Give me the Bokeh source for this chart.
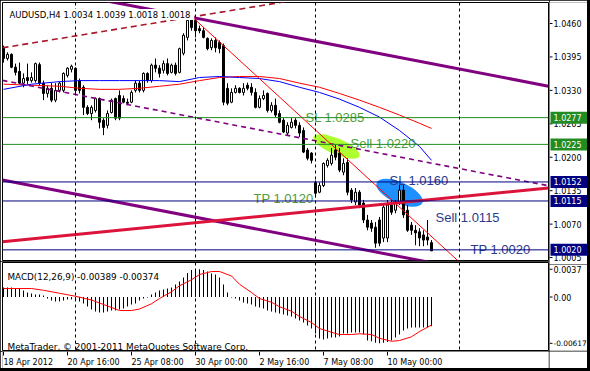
from bokeh.plotting import figure
from bokeh.models import Range1d, Label, Span, ColumnDataSource
from bokeh.layouts import column, row
from bokeh.core.properties import value
from bokeh.embed import file_html
from bokeh.resources import INLINE

# ---------------- data (AUDUSD H4, 18 Apr - 11 May 2012) ----------------
opens = [1.0413, 1.0392, 1.0400, 1.0375, 1.0367, 1.0344, 1.0355, 1.0349, 1.0349, 1.0380,
         1.0344, 1.0324, 1.0334, 1.0311, 1.0330, 1.0330, 1.0359, 1.0371, 1.0373, 1.0349,
         1.0336, 1.0297, 1.0285, 1.0291, 1.0314, 1.0272, 1.0262, 1.0287, 1.0314, 1.0320,
         1.0314, 1.0307, 1.0307, 1.0330, 1.0344, 1.0330, 1.0363, 1.0349, 1.0379, 1.0373,
         1.0369, 1.0382, 1.0365, 1.0379, 1.0365, 1.0402, 1.0433, 1.0470, 1.0466, 1.0450,
         1.0446, 1.0431, 1.0413, 1.0427, 1.0423, 1.0417, 1.0334, 1.0307, 1.0326, 1.0334,
         1.0326, 1.0340, 1.0336, 1.0326, 1.0297, 1.0314, 1.0324, 1.0291, 1.0301, 1.0285,
         1.0272, 1.0247, 1.0258, 1.0272, 1.0262, 1.0252, 1.0214, 1.0208, 1.0151, 1.0132,
         1.0145, 1.0184, 1.0188, 1.0214, 1.0208, 1.0171, 1.0190, 1.0136, 1.0113, 1.0132,
         1.0111, 1.0078, 1.0072, 1.0064, 1.0078, 1.0043, 1.0043, 1.0107, 1.0097, 1.0111,
         1.0136, 1.0097, 1.0068, 1.0058, 1.0055, 1.0049, 1.0045, 1.0034]
highs = [1.0417, 1.0404, 1.0402, 1.0382, 1.0384, 1.0363, 1.0382, 1.0365, 1.0384, 1.0384,
         1.0349, 1.0340, 1.0344, 1.0344, 1.0347, 1.0365, 1.0375, 1.0380, 1.0375, 1.0353,
         1.0340, 1.0301, 1.0301, 1.0316, 1.0316, 1.0276, 1.0291, 1.0314, 1.0316, 1.0330,
         1.0320, 1.0314, 1.0330, 1.0349, 1.0349, 1.0365, 1.0365, 1.0382, 1.0392, 1.0379,
         1.0388, 1.0392, 1.0382, 1.0384, 1.0413, 1.0441, 1.0470, 1.0472, 1.0470, 1.0456,
         1.0452, 1.0433, 1.0431, 1.0433, 1.0427, 1.0421, 1.0344, 1.0334, 1.0340, 1.0336,
         1.0344, 1.0345, 1.0344, 1.0334, 1.0320, 1.0330, 1.0326, 1.0307, 1.0314, 1.0291,
         1.0276, 1.0268, 1.0276, 1.0276, 1.0268, 1.0258, 1.0218, 1.0210, 1.0155, 1.0151,
         1.0190, 1.0198, 1.0218, 1.0224, 1.0218, 1.0198, 1.0198, 1.0140, 1.0140, 1.0136,
         1.0117, 1.0088, 1.0078, 1.0074, 1.0084, 1.0111, 1.0117, 1.0117, 1.0117, 1.0146,
         1.0146, 1.0107, 1.0074, 1.0068, 1.0062, 1.0058, 1.0078, 1.0039]
lows = [1.0384, 1.0388, 1.0373, 1.0359, 1.0342, 1.0336, 1.0342, 1.0345, 1.0345, 1.0340,
        1.0311, 1.0316, 1.0307, 1.0307, 1.0326, 1.0326, 1.0355, 1.0365, 1.0324, 1.0324,
        1.0282, 1.0282, 1.0272, 1.0287, 1.0256, 1.0243, 1.0256, 1.0285, 1.0272, 1.0272,
        1.0305, 1.0301, 1.0305, 1.0326, 1.0326, 1.0326, 1.0345, 1.0345, 1.0365, 1.0355,
        1.0363, 1.0359, 1.0363, 1.0359, 1.0363, 1.0398, 1.0427, 1.0446, 1.0433, 1.0441,
        1.0431, 1.0408, 1.0408, 1.0404, 1.0402, 1.0301, 1.0301, 1.0305, 1.0324, 1.0324,
        1.0320, 1.0330, 1.0320, 1.0295, 1.0295, 1.0311, 1.0287, 1.0287, 1.0278, 1.0266,
        1.0247, 1.0243, 1.0256, 1.0256, 1.0239, 1.0208, 1.0194, 1.0188, 1.0122, 1.0130,
        1.0142, 1.0180, 1.0184, 1.0194, 1.0171, 1.0165, 1.0126, 1.0111, 1.0107, 1.0101,
        1.0072, 1.0058, 1.0055, 1.0024, 1.0027, 1.0035, 1.0035, 1.0088, 1.0091, 1.0107,
        1.0082, 1.0055, 1.0049, 1.0029, 1.0027, 1.0027, 1.0029, 1.0018]
closes = [1.0392, 1.0400, 1.0375, 1.0365, 1.0344, 1.0353, 1.0349, 1.0355, 1.0382, 1.0344,
          1.0324, 1.0334, 1.0311, 1.0330, 1.0344, 1.0363, 1.0373, 1.0377, 1.0330, 1.0330,
          1.0297, 1.0285, 1.0297, 1.0314, 1.0268, 1.0258, 1.0285, 1.0311, 1.0276, 1.0276,
          1.0307, 1.0305, 1.0326, 1.0344, 1.0330, 1.0363, 1.0349, 1.0379, 1.0373, 1.0363,
          1.0382, 1.0363, 1.0379, 1.0363, 1.0411, 1.0437, 1.0466, 1.0452, 1.0446, 1.0446,
          1.0433, 1.0411, 1.0427, 1.0413, 1.0411, 1.0307, 1.0305, 1.0326, 1.0334, 1.0326,
          1.0334, 1.0334, 1.0326, 1.0297, 1.0314, 1.0320, 1.0291, 1.0301, 1.0282, 1.0268,
          1.0249, 1.0262, 1.0268, 1.0262, 1.0247, 1.0210, 1.0198, 1.0194, 1.0130, 1.0145,
          1.0188, 1.0194, 1.0204, 1.0200, 1.0175, 1.0188, 1.0132, 1.0117, 1.0132, 1.0107,
          1.0078, 1.0064, 1.0062, 1.0033, 1.0033, 1.0103, 1.0107, 1.0093, 1.0111, 1.0136,
          1.0088, 1.0058, 1.0058, 1.0053, 1.0043, 1.0039, 1.0039, 1.0018]

# moving averages (read at selected bars)
ma_bars = [0, 7, 14, 19, 24, 29, 34, 39, 44, 49, 54, 59, 64, 69, 74, 79, 84, 89, 94, 99, 104, 107]
ma_red = [1.0342, 1.0340, 1.0338, 1.0334, 1.0332, 1.0332, 1.0334, 1.0338, 1.0342, 1.0349, 1.0355,
          1.0357, 1.0357, 1.0353, 1.0344, 1.0336, 1.0324, 1.0311, 1.0297, 1.0282, 1.0266, 1.0256]
ma_blue = [1.0332, 1.0342, 1.0347, 1.0349, 1.0349, 1.0349, 1.0349, 1.0349, 1.0347, 1.0355, 1.0357,
           1.0355, 1.0353, 1.0347, 1.0336, 1.0326, 1.0313, 1.0297, 1.0278, 1.0252, 1.0221, 1.0194]

# MACD(12,26,9): main (histogram) per bar, signal line read at selected bars
macd_main = [0.00127, 0.00127, 0.00127, 0.00113, 0.00113, 0.00087, 0.00060, 0.00047, 0.00033, 0.00033,
             0.00020, -0.00020, -0.00047, -0.00060, -0.00060, -0.00047, -0.00033, -0.00033, -0.00047, -0.00060,
             -0.00087, -0.00127, -0.00167, -0.00193, -0.00207, -0.00207, -0.00193, -0.00180, -0.00180, -0.00167,
             -0.00153, -0.00127, -0.00100, -0.00087, -0.00047, -0.00020, -0.00007, 0.00033, 0.00060, 0.00087,
             0.00100, 0.00113, 0.00127, 0.00167, 0.00207, 0.00260, 0.00320, 0.00360, 0.00370, 0.00370,
             0.00360, 0.00340, 0.00313, 0.00300, 0.00260, 0.00167, 0.00060, -0.00007, -0.00020, -0.00047,
             -0.00073, -0.00087, -0.00100, -0.00127, -0.00140, -0.00153, -0.00180, -0.00193, -0.00207, -0.00220,
             -0.00233, -0.00247, -0.00260, -0.00287, -0.00313, -0.00340, -0.00380, -0.00420, -0.00487, -0.00553,
             -0.00567, -0.00553, -0.00540, -0.00540, -0.00527, -0.00487, -0.00487, -0.00473, -0.00473, -0.00473,
             -0.00500, -0.00580, -0.00590, -0.00610, -0.00617, -0.00610, -0.00600, -0.00580, -0.00540, -0.00500,
             -0.00447, -0.00420, -0.00407, -0.00407, -0.00407, -0.00407, -0.00407, -0.00389]
signal_bars = [0, 7, 10, 14, 18, 22, 24, 27, 29, 32, 34, 37, 39, 42, 44, 47, 49, 52, 54, 57,
               59, 62, 64, 67, 69, 72, 74, 77, 79, 82, 84, 87, 89, 92, 94, 97, 99, 102, 104, 107]
signal_vals = [0.00113, 0.00113, 0.00090, 0.00050, 0.00010, -0.00040, -0.00080, -0.00140, -0.00180, -0.00180,
               -0.00160, -0.00090, -0.00020, 0.00070, 0.00150, 0.00230, 0.00300, 0.00340, 0.00340, 0.00280,
               0.00170, 0.00060, -0.00020, -0.00070, -0.00130, -0.00190, -0.00260, -0.00340, -0.00420, -0.00470,
               -0.00500, -0.00500, -0.00490, -0.00500, -0.00550, -0.00590, -0.00580, -0.00530, -0.00460, -0.00374]

price_ticks = [1.0005, 1.0070, 1.0135, 1.0200, 1.0265, 1.0330, 1.0395, 1.0460]
price_tick_labels = ["1.0005", "1.0070", "1.0135", "1.0200", "1.0265", "1.0330", "1.0395", "1.0460"]
green_levels = [1.0277, 1.0225]
navy_levels = [1.0152, 1.0115, 1.0020]
macd_ticks = [0.0037, 0.0, -0.00617]
macd_tick_labels = ["0.0037", "0.00", "-0.00617"]
time_bars = [0, 16, 32, 48, 64, 80, 96]
time_labels = ["18 Apr 2012", "20 Apr 16:00", "25 Apr 08:00", "30 Apr 00:00",
               "2 May 16:00", "7 May 08:00", "10 May 00:00"]
separator_bars = [18, 48, 78, 114]

# chart objects: two anchors each (bar, price)
channel_bars = [47, 107]
channel_top = [1.0472, 1.0382]
channel_mid = [1.02785, 1.01885]
channel_bot = [1.0085, 0.9995]
trend_bars = [47, 107]
trend_prices = [1.0474, 1.0046]
crimson_bars = [0, 107]
crimson_prices = [1.0036, 1.0118]
upper_dash_bars = [0, 67]
upper_dash_prices = [1.0413, 1.0498]

ellipse_x = [83.25, 99.0]
ellipse_y = [1.0221, 1.0131]
ellipse_colors = ["#ADFF2F", "#1E90FF"]

obj_texts = ["SL 1.0285", "Sell 1.0220", "TP 1.0120", "SL 1.0160", "Sell 1.0115", "TP 1.0020"]
obj_x = [75.5, 86.75, 62.5, 96.5, 108.0, 116.75]
obj_y = [1.0278, 1.0226, 1.0119, 1.0154, 1.0083, 1.0020]
obj_colors = ["#4E9E3C", "#4E9E3C", "#4E9E3C", "#2B3A8C", "#2B3A8C", "#2B3A8C"]

# ---------------- helpers ----------------
X_LO, X_HI = -0.25, 136.25   # 4 px per bar, whole-pixel aligned
UI_FONT = "DejaVu Sans"
GREEN = "#228B22"
NAVY = "#000080"
P_LO, P_HI = 0.99993, 1.05008
PX = (P_HI - P_LO) / 258          # price per screen pixel in the main panel
M_LO, M_HI = -0.00713, 0.0046
MPX = (M_HI - M_LO) / 88          # MACD value per screen pixel


def base_fig(w, h, xr, yr, left, right, top, bottom, outline=True):
    f = figure(width=w, height=h, output_backend="svg", toolbar_location=None,
               x_range=xr, y_range=yr, x_axis_location=None, y_axis_location=None,
               min_border_left=left, min_border_right=right, min_border_top=top, min_border_bottom=bottom)
    f.grid.visible = False
    f.outline_line_color = "black" if outline else None
    f.background_fill_color = "white"
    f.border_fill_color = "white"
    return f


def ray(bx, py, x0, x1):
    s = (py[1] - py[0]) / (bx[1] - bx[0])
    return [x0, x1], [py[0] + s * (x0 - bx[0]), py[0] + s * (x1 - bx[0])]


# ---------------- main price panel ----------------
p1 = base_fig(549, 261, Range1d(X_LO, X_HI), Range1d(P_LO, P_HI), 2, 1, 2, 1)

p1.ellipse(x=ellipse_x, y=ellipse_y, width=[50, 50], height=[16, 21], angle=[-0.40, -0.42],
           width_units="screen", height_units="screen", fill_color=ellipse_colors, line_color=None)

for lv in green_levels:
    p1.add_layout(Span(location=lv, dimension="width", line_color=GREEN, line_width=1))
for lv in navy_levels:
    p1.add_layout(Span(location=lv, dimension="width", line_color=NAVY, line_width=1))

idx = list(range(len(opens)))
up = [i for i in idx if closes[i] >= opens[i]]
dn = [i for i in idx if closes[i] < opens[i]]
p1.segment(x0=idx, y0=lows, x1=idx, y1=highs, line_color="black", line_width=1)
p1.vbar(x=up, width=0.5, bottom=[opens[i] for i in up], top=[closes[i] for i in up],
        fill_color="white", line_color="black", line_width=1)
p1.vbar(x=dn, width=0.5, bottom=[closes[i] for i in dn], top=[opens[i] for i in dn],
        fill_color="black", line_color="black", line_width=1)

p1.line(ma_bars, ma_red, line_color="#FF0000", line_width=1)
p1.line(ma_bars, ma_blue, line_color="#0000FF", line_width=1)

xs, ys = ray(upper_dash_bars, upper_dash_prices, X_LO, X_HI)
p1.line(xs, ys, line_color="#A8182A", line_width=1.6, line_dash="6 4")
xs, ys = ray(channel_bars, channel_mid, X_LO, X_HI)
p1.line(xs, ys, line_color="#800080", line_width=1.6, line_dash="5 4")
xs, ys = ray(channel_bars, channel_top, X_LO, X_HI)
p1.line(xs, ys, line_color="#800080", line_width=3)
xs, ys = ray(channel_bars, channel_bot, X_LO, X_HI)
p1.line(xs, ys, line_color="#800080", line_width=3)
xs, ys = ray(crimson_bars, crimson_prices, X_LO, X_HI)
p1.line(xs, ys, line_color="#DC143C", line_width=3)
xs, ys = ray(trend_bars, trend_prices, trend_bars[0], X_HI)
p1.line(xs, ys, line_color="#FF0000", line_width=1)

for sb in separator_bars:
    p1.add_layout(Span(location=sb, dimension="height", line_color="black", line_width=1, line_dash="3 3"))

src_t = ColumnDataSource(dict(x=obj_x, y=obj_y, t=obj_texts, c=obj_colors))
p1.text(x="x", y="y", text="t", text_color="c", source=src_t, text_font=value("Liberation Sans"),
        text_font_size="13px", text_baseline="alphabetic", text_align="left")

p1.add_layout(Label(x=1.25, y=1.04775, text="AUDUSD,H4  1.0034 1.0039 1.0018 1.0018",
                    text_font=UI_FONT, text_font_size="8.5px", text_color="black",
                    text_baseline="alphabetic", text_align="left", background_fill_color="white",
                    padding=dict(left=1, right=1, top=1, bottom=0)))

# price scale column (right of the main panel), 3 px taller so the lowest label is not clipped
p1r = base_fig(38, 264, Range1d(0, 38), Range1d(P_LO - 4 * PX, P_HI), 0, 0, 2, 0, outline=False)
p1r.segment(x0=[0] * len(price_ticks), y0=price_ticks, x1=[3] * len(price_ticks), y1=price_ticks,
            line_color="black", line_width=1)
p1r.text(x=[4] * len(price_ticks), y=price_ticks, text=price_tick_labels, text_color="black",
         text_font=value(UI_FONT), text_font_size="8px", text_baseline="middle", text_align="left")
box_levels = green_levels + navy_levels
box_colors = [GREEN] * len(green_levels) + [NAVY] * len(navy_levels)
p1r.rect(x=[19.5] * len(box_levels), y=box_levels, width=37, height=12, height_units="screen",
         fill_color=box_colors, line_color=None)
p1r.text(x=[4] * len(box_levels), y=box_levels, text=["%.4f" % v for v in box_levels], text_color="white",
         text_font=value(UI_FONT), text_font_size="8px", text_baseline="middle", text_align="left")

# ---------------- MACD panel ----------------
p2 = base_fig(549, 90, p1.x_range, Range1d(M_LO, M_HI), 2, 1, 1, 1)
p2.vbar(x=idx, width=0.25, bottom=[0] * len(idx), top=macd_main, fill_color="black", line_color=None)
p2.line(signal_bars, signal_vals, line_color="#FF0000", line_width=1)
for sb in separator_bars:
    p2.add_layout(Span(location=sb, dimension="height", line_color="black", line_width=1, line_dash="3 3"))
p2.add_layout(Label(x=1.0, y=0.00273, text="MACD(12,26,9) -0.00389 -0.00374", text_font=UI_FONT,
                    text_font_size="8.8px", text_color="black", text_baseline="alphabetic", text_align="left"))
p2.add_layout(Label(x=1.0, y=-0.00665, text="MetaTrader, \u00a9 2001-2011 MetaQuotes Software Corp.",
                    text_font=UI_FONT, text_font_size="8.9px", text_color="black",
                    text_baseline="alphabetic", text_align="left"))

# MACD scale column: starts 3 px lower (frame 264..350) with the same value-per-pixel
p2r = base_fig(38, 87, Range1d(0, 38), Range1d(M_LO, M_HI - 2 * MPX), 0, 0, 0, 1, outline=False)
p2r.segment(x0=[0] * len(macd_ticks), y0=macd_ticks, x1=[3] * len(macd_ticks), y1=macd_ticks,
            line_color="black", line_width=1)
p2r.text(x=[4] * len(macd_ticks), y=macd_ticks, text=macd_tick_labels, text_color="black",
         text_font=value(UI_FONT), text_font_size=["8px", "8px", "7.4px"],
         text_baseline="middle", text_align="left")

# ---------------- time scale strip ----------------
p3 = base_fig(549, 17, p1.x_range, Range1d(0, 17), 2, 1, 0, 0, outline=False)
p3.segment(x0=time_bars, y0=[17] * len(time_bars), x1=time_bars, y1=[13] * len(time_bars),
           line_color="black", line_width=1)
p3.text(x=time_bars, y=[6] * len(time_bars), text=time_labels, text_color="black",
        text_font=value(UI_FONT), text_font_size="8px", text_baseline="alphabetic", text_align="left")
p3r = base_fig(38, 17, Range1d(0, 38), Range1d(0, 17), 0, 0, 0, 0, outline=False)

grid = row(column(p1, p2, p3, spacing=0), column(p1r, p2r, p3r, spacing=0), spacing=0)
layout = column(grid, width=590, height=371, styles={"background-color": "black"})
open("out.html", "w").write(file_html(layout, INLINE))
